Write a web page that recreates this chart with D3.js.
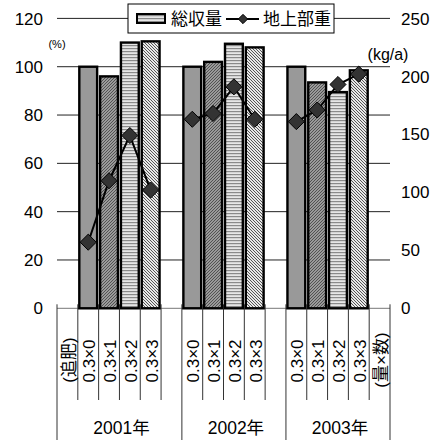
<!DOCTYPE html>
<html>
<head>
<meta charset="utf-8">
<script src="https://cdn.jsdelivr.net/npm/d3@7"></script>
<style>
  html, body { margin: 0; padding: 0; background: #fff; }
  svg { display: block; }
  text { font-family: "Liberation Sans", Arial, "Noto Sans CJK JP", sans-serif; fill: #000; }
</style>
</head>
<body>
<svg id="chart" width="443" height="443"></svg>
<script>
// Years (groups) and fertilizer treatments (amount × number of applications)
const years = ["2001年", "2002年", "2003年"];
const treatments = ["0.3×0", "0.3×1", "0.3×2", "0.3×3"];
// Total yield, % of the 0.3×0 plot (left axis)
const yieldPct = [
  [100, 96, 110, 110.5],
  [100, 102, 109.5, 108],
  [100, 93.5, 89.5, 98.5]
];
// Above-ground weight, kg/a (right axis)
const topWeight = [
  [57, 110, 149, 102],
  [163, 168, 191, 163],
  [161, 171, 193, 202]
];
const leftTicks = [0, 20, 40, 60, 80, 100, 120];
const rightTicks = [0, 50, 100, 150, 200, 250];
const legendLabels = ["総収量", "地上部重"];
const leftUnit = "(%)";
const rightUnit = "(kg/a)";
const firstNote = "(追肥)";
const lastNote = "(量×数)";

const svg = d3.select("#chart");
const X0 = 57, X1 = 390, Y0 = 308.3, Y1 = 18.4;

// Slot layout along the x axis: note, 4 bars, gap | 4 bars, gap | 4 bars, note
const slots = [];
slots.push({ type: "note", label: firstNote });
years.forEach((y, gi) => {
  treatments.forEach((t, ti) => slots.push({ type: "bar", g: gi, t: ti, label: t }));
  if (gi < years.length - 1) slots.push({ type: "gap", label: "" });
});
slots.push({ type: "note", label: lastNote });

const x = d3.scaleBand().domain(d3.range(slots.length)).range([X0, X1]).padding(0);
const yL = d3.scaleLinear().domain([0, 120]).range([Y0, Y1]);
const yR = d3.scaleLinear().domain([0, 250]).range([Y0, Y1]);

// Fill patterns for the four treatments
const defs = svg.append("defs");
const p2 = defs.append("pattern").attr("id", "pat1").attr("patternUnits", "userSpaceOnUse")
  .attr("width", 3).attr("height", 3);
p2.append("rect").attr("width", 3).attr("height", 3).attr("fill", "#9a9a9a");
p2.append("path").attr("d", "M0,3 L3,0 M-1,1 L1,-1 M2,4 L4,2").attr("stroke", "#4a4a4a").attr("stroke-width", 0.9);
const p3 = defs.append("pattern").attr("id", "pat2").attr("patternUnits", "userSpaceOnUse")
  .attr("width", 4).attr("height", 3);
p3.append("rect").attr("width", 4).attr("height", 3).attr("fill", "#e6e6e6");
p3.append("rect").attr("width", 4).attr("height", 1.2).attr("fill", "#8a8a8a");
const p4 = defs.append("pattern").attr("id", "pat3").attr("patternUnits", "userSpaceOnUse")
  .attr("width", 3).attr("height", 3);
p4.append("rect").attr("width", 3).attr("height", 3).attr("fill", "#e8e8e8");
p4.append("path").attr("d", "M0,0 L3,3 M-1,2 L1,4 M2,-1 L4,1").attr("stroke", "#444").attr("stroke-width", 0.9);
const fills = ["#999999", "url(#pat1)", "url(#pat2)", "url(#pat3)"];

// Horizontal gridlines on the left scale
svg.append("g").selectAll("line").data(leftTicks).join("line")
  .attr("x1", X0).attr("x2", X1)
  .attr("y1", d => yL(d)).attr("y2", d => yL(d))
  .attr("stroke", d => d === 0 ? "#777" : "#222").attr("stroke-width", 1);

// Left axis labels
svg.append("g").selectAll("text").data(leftTicks).join("text")
  .attr("x", 43).attr("y", d => yL(d)).attr("dy", "0.36em")
  .attr("text-anchor", "end").attr("font-size", 17).text(d => d);
// Right axis labels
svg.append("g").selectAll("text").data(rightTicks).join("text")
  .attr("x", 401).attr("y", d => yR(d)).attr("dy", "0.36em")
  .attr("text-anchor", "start").attr("font-size", 17).text(d => d);

svg.append("text").attr("x", 57).attr("y", 48).attr("text-anchor", "middle")
  .attr("font-size", 11).text(leftUnit);
svg.append("text").attr("x", 388).attr("y", 60).attr("text-anchor", "middle")
  .attr("font-size", 16).text(rightUnit);

// Category separators below the baseline
const bounds = d3.range(slots.length + 1).map(i => i < slots.length ? x(i) : X1);
const groupEdges = [0, 6, 11, 16];
svg.append("g").selectAll("line").data(d3.range(slots.length + 1)).join("line")
  .attr("x1", i => bounds[i]).attr("x2", i => bounds[i])
  .attr("y1", Y0 - 4)
  .attr("y2", i => groupEdges.includes(i) ? 440 : 400)
  .attr("stroke", "#333").attr("stroke-width", 1);

// Bars
const barW = x.bandwidth() - 3;
const barData = slots.map((s, i) => ({ ...s, i })).filter(s => s.type === "bar");
svg.append("g").selectAll("rect").data(barData).join("rect")
  .attr("x", d => x(d.i) + (x.bandwidth() - barW) / 2)
  .attr("width", barW)
  .attr("y", d => yL(yieldPct[d.g][d.t]))
  .attr("height", d => Y0 - yL(yieldPct[d.g][d.t]))
  .attr("fill", d => fills[d.t])
  .attr("stroke", "#000").attr("stroke-width", 2.4);

// Above-ground weight line with diamond markers, one segment per year
const line = d3.line().x(d => x(d.i) + x.bandwidth() / 2).y(d => yR(topWeight[d.g][d.t]));
years.forEach((y, gi) => {
  svg.append("path").datum(barData.filter(d => d.g === gi))
    .attr("d", line).attr("fill", "none").attr("stroke", "#000").attr("stroke-width", 2);
});
const diamond = d3.symbol().type(d3.symbolDiamond2).size(165);
svg.append("g").selectAll("path").data(barData).join("path")
  .attr("transform", d => `translate(${x(d.i) + x.bandwidth() / 2},${yR(topWeight[d.g][d.t])})`)
  .attr("d", diamond).attr("fill", "#333").attr("stroke", "#000").attr("stroke-width", 1);

// Rotated category labels
svg.append("g").selectAll("text").data(slots.map((s, i) => ({ ...s, i })).filter(s => s.label)).join("text")
  .attr("transform", d => `translate(${x(d.i) + x.bandwidth() / 2 + 1},${d.type === "note" ? 360 : 361}) rotate(-90)`)
  .attr("text-anchor", "middle").attr("dy", "0.36em")
  .attr("font-size", 17).text(d => d.label);

// Year labels
svg.append("g").selectAll("text").data(years).join("text")
  .attr("x", (d, i) => (bounds[groupEdges[i]] + bounds[groupEdges[i + 1]]) / 2 + 2)
  .attr("y", 428).attr("dy", "0.36em").attr("text-anchor", "middle")
  .attr("font-size", 17.5).text(d => d);

// Legend
const lg = svg.append("g");
lg.append("rect").attr("x", 128).attr("y", 4).attr("width", 206).attr("height", 29)
  .attr("fill", "#fff").attr("stroke", "#000").attr("stroke-width", 1);
lg.append("rect").attr("x", 137).attr("y", 14).attr("width", 28).attr("height", 9)
  .attr("fill", fills[2]).attr("stroke", "#000").attr("stroke-width", 2);
lg.append("text").attr("x", 171).attr("y", 19).attr("dy", "0.36em")
  .attr("font-size", 17).text(legendLabels[0]);
lg.append("line").attr("x1", 226).attr("x2", 259).attr("y1", 19).attr("y2", 19)
  .attr("stroke", "#000").attr("stroke-width", 2);
lg.append("path").attr("transform", "translate(243,19)").attr("d", d3.symbol().type(d3.symbolDiamond2).size(55))
  .attr("fill", "#333").attr("stroke", "#000");
lg.append("text").attr("x", 263).attr("y", 19).attr("dy", "0.36em")
  .attr("font-size", 17).text(legendLabels[1]);
</script>
</body>
</html>
